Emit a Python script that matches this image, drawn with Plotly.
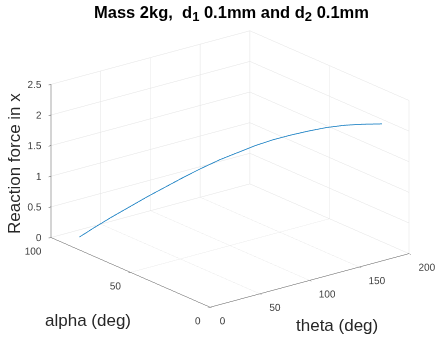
import plotly.graph_objects as go
import math

# Data
theta_deg = [7, 15, 25, 35, 45, 55, 65, 75, 85, 95, 105, 115, 125, 135, 145, 155, 165, 176]
alpha_deg = [86.5, 82.5, 77.5, 72.5, 67.5, 62.5, 57.5, 52.5, 47.5, 42.5, 37.5, 32.5, 27.5, 22.5, 17.5, 12.5, 7.5, 2.0]
reaction_x = [0.13, 0.29, 0.48, 0.66, 0.84, 1.01, 1.18, 1.34, 1.49, 1.62, 1.75, 1.86, 1.95, 2.03, 2.10, 2.15, 2.18, 2.20]

x_ticks = [0, 50, 100, 150, 200]
y_ticks = [0, 50, 100]
z_ticks = [0, 0.5, 1, 1.5, 2, 2.5]
x_tick_text = ["0", "50", "100", "150", "200"]
y_tick_text = ["0", "50", "100"]
z_tick_text = ["0", "0.5", "1", "1.5", "2", "2.5"]

title_text = ("<b>Mass 2kg,&nbsp; d<sub><span style='font-size:13px'>1</span></sub>&nbsp;0.1mm and "
              "d<sub><span style='font-size:13px'>2</span></sub>&nbsp;0.1mm</b>")
x_label = "theta (deg)"
y_label = "alpha (deg)"
z_label = "Reaction force in x"

W, H = 437, 337


def px(x):
    return x / W


def py(y):
    return 1 - y / H


FONT = "Liberation Sans, Arial, sans-serif"
TICK_FONT = dict(family=FONT, size=10, color="#404040")

fig = go.Figure()
fig.add_trace(go.Scatter3d(
    x=theta_deg, y=alpha_deg, z=reaction_x,
    mode="lines",
    line=dict(color="#0072BD", width=1.5),
    showlegend=False,
    hoverinfo="skip",
))

# tick labels (screen-aligned, like the reference)
fig.add_trace(go.Scatter3d(
    x=x_ticks, y=[0] * len(x_ticks), z=[0] * len(x_ticks),
    mode="text", text=x_tick_text, textposition="bottom right",
    textfont=TICK_FONT, showlegend=False, hoverinfo="skip",
))
fig.add_trace(go.Scatter3d(
    x=[0] * len(y_ticks), y=y_ticks, z=[0] * len(y_ticks),
    mode="text", text=y_tick_text, textposition="bottom left",
    textfont=TICK_FONT, showlegend=False, hoverinfo="skip",
))
fig.add_trace(go.Scatter3d(
    x=[0] * len(z_ticks), y=[100] * len(z_ticks), z=z_ticks,
    mode="text", text=z_tick_text, textposition="middle left",
    textfont=TICK_FONT, showlegend=False, hoverinfo="skip",
))

axis_common = dict(
    showbackground=False,
    gridcolor="#e3e3e3",
    gridwidth=1,
    showline=True,
    linecolor="#555555",
    linewidth=1,
    ticks="outside",
    ticklen=3,
    tickcolor="#555555",
    showticklabels=False,
    showspikes=False,
    zeroline=False,
    title=dict(text=""),
)

phi = math.radians(38.1)
el = math.radians(20.1)
r = 3.0
eye = dict(x=-r * math.sin(phi) * math.cos(el),
           y=-r * math.cos(phi) * math.cos(el),
           z=r * math.sin(el))

S = 1.57
# scene centred on the plot box centre (230, 169), 322 px tall
cx, cy, sh = 230, 169, 322
dom_x = [2 * cx / W - 1, 1.0]
dom_y = [(H - cy - sh / 2) / H, (H - cy + sh / 2) / H]

fig.update_layout(
    width=W, height=H,
    margin=dict(l=0, r=0, t=0, b=0),
    paper_bgcolor="white",
    font=dict(family=FONT, color="#262626"),
    scene=dict(
        domain=dict(x=dom_x, y=dom_y),
        xaxis=dict(range=[0, 200], tickvals=x_ticks, **axis_common),
        yaxis=dict(range=[0, 100], tickvals=y_ticks, **axis_common),
        zaxis=dict(range=[0, 2.5], tickvals=z_ticks, **axis_common),
        aspectmode="manual",
        aspectratio=dict(x=1 * S, y=1.02 * S, z=0.645 * S),
        camera=dict(eye=eye, up=dict(x=0, y=0, z=1), center=dict(x=0, y=0, z=0),
                    projection=dict(type="orthographic")),
        bgcolor="white",
    ),
    annotations=[
        dict(text=title_text, x=px(231.5), y=py(13.5), xref="paper", yref="paper",
             xanchor="center", yanchor="middle", showarrow=False,
             font=dict(size=16.5, color="black")),
        dict(text=z_label, x=px(15), y=py(164), xref="paper", yref="paper",
             xanchor="center", yanchor="middle", textangle=-90, showarrow=False,
             font=dict(size=17, color="#262626")),
        dict(text=y_label, x=px(88), y=py(320), xref="paper", yref="paper",
             xanchor="center", yanchor="middle", showarrow=False,
             font=dict(size=17, color="#262626")),
        dict(text=x_label, x=px(337), y=py(325), xref="paper", yref="paper",
             xanchor="center", yanchor="middle", showarrow=False,
             font=dict(size=17, color="#262626")),
    ],
)

fig.write_html(
    "out.html",
    config={"displayModeBar": False},
    post_script="document.body.style.margin='0px';document.body.style.overflow='hidden';",
)
